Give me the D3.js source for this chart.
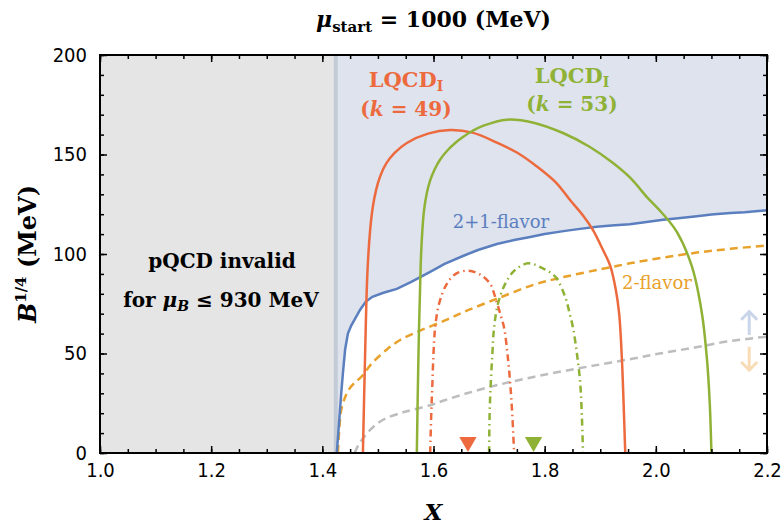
<!DOCTYPE html>
<html>
<head>
<meta charset="utf-8">
<script src="https://cdn.jsdelivr.net/npm/d3@7.9.0/dist/d3.min.js"></script>
<style>
  html, body { margin: 0; padding: 0; background: #fff; }
  svg { display: block; }
  .serif { font-family: "DejaVu Serif", serif; }
  .tick text { font-family: "DejaVu Sans Condensed", "DejaVu Sans", sans-serif; font-stretch: condensed; font-size: 20px; fill: #000; }
</style>
</head>
<body>
<svg id="chart" width="784" height="527"></svg>
<script>
// tick values
const xMajor = [1.0, 1.2, 1.4, 1.6, 1.8, 2.0, 2.2];
const yMajor = [0, 50, 100, 150, 200];

// pQCD invalid below this X
const invalidLimit = 1.426;

// 2+1-flavor boundary (B^1/4 vs X)
const flavor21 = [[1.426,0],[1.430,15],[1.434,30],[1.437,40],[1.441,52],[1.446,60],[1.452,64],[1.460,68],[1.468,72],[1.478,76],[1.49,78.5],[1.51,80.5],[1.534,82.5],[1.56,86],[1.594,91],[1.62,95],[1.653,99],[1.68,102],[1.714,105],[1.745,107],[1.774,108.5],[1.80,110],[1.834,111.5],[1.86,112.5],[1.894,113.7],[1.92,114.3],[1.953,115],[1.98,116],[2.013,117.2],[2.04,118],[2.074,119],[2.10,119.8],[2.134,120.6],[2.16,121],[2.2,122]];

// 2-flavor boundary
const flavor2 = [[1.428,0],[1.430,10],[1.433,20],[1.437,25],[1.441,28],[1.448,32],[1.457,35],[1.471,38.5],[1.489,45],[1.516,52],[1.54,56.8],[1.576,61.5],[1.624,67],[1.66,71.5],[1.714,77.5],[1.78,84.5],[1.834,88.4],[1.90,92.3],[1.953,95.3],[2.013,98.2],[2.074,100.7],[2.134,102.6],[2.2,104.3]];

// grey dashed lower curve
const lowerCurve = [[1.458,0],[1.465,4],[1.475,8],[1.486,11.6],[1.50,15],[1.516,17.6],[1.54,20],[1.552,21],[1.594,24],[1.62,26.5],[1.66,30],[1.72,34.5],[1.78,38.2],[1.84,41.5],[1.9,44.5],[1.96,47.5],[2.007,50],[2.07,53],[2.128,56],[2.2,58.5]];

// LQCD_I contours
const lqcd49 = [[1.473,0],[1.477,50],[1.481,90],[1.486,112],[1.491,124],[1.497,132.5],[1.504,139],[1.515,145.5],[1.53,150.8],[1.552,155.8],[1.59,160.5],[1.63,162.3],[1.67,161],[1.714,156],[1.75,151],[1.786,144],[1.82,136],[1.846,127],[1.87,119],[1.887,112],[1.905,102],[1.918,94],[1.928,82],[1.934,70],[1.939,47],[1.942,25],[1.945,0]];
const lqcd53 = [[1.570,0],[1.573,50],[1.577,95],[1.580,112],[1.583,122],[1.588,130.6],[1.594,137],[1.602,142.5],[1.612,147.5],[1.625,152],[1.64,156],[1.653,158.8],[1.67,161.8],[1.69,164.5],[1.732,167.5],[1.78,166],[1.833,160.8],[1.88,154],[1.923,145.7],[1.955,138],[1.984,128.6],[2.01,121],[2.038,111],[2.065,93.6],[2.083,70],[2.092,47],[2.097,25],[2.100,0]];
const lqcd49Inner = [[1.594,0],[1.596,20],[1.598,35],[1.600,50],[1.603,63],[1.61,75],[1.624,85],[1.64,90],[1.662,91.6],[1.685,89.5],[1.702,85],[1.711,78.4],[1.72,70],[1.727,63],[1.733,50],[1.738,35],[1.742,18],[1.745,0]];
const lqcd53Inner = [[1.700,0],[1.701,20],[1.703,35],[1.706,50],[1.709,63],[1.716,75],[1.729,85],[1.745,91.5],[1.770,95.3],[1.795,93],[1.819,88.6],[1.837,78.4],[1.845,70],[1.851,63],[1.858,50],[1.864,35],[1.867,18],[1.869,0]];

// marker positions (X) for k=49 and k=53
const markerX = [1.662, 1.780];
const markerB = 5.5;

// arrows at X = 2.168: [from, to]
const arrowX = 2.168;
const arrowUp = [59.3, 71];
const arrowDown = [53.4, 41.7];

const colors = {
  red: '#ec6a3e',
  green: '#8fb236',
  blue: '#5b7fbe',
  orange: '#e8a22c',
  gray: '#bdbdbd'
};

const svg = d3.select('#chart');
const mLeft = 100, mRight = 767, mTop = 55, mBottom = 453;

const x = d3.scaleLinear().domain([1.0, 2.2]).range([mLeft, mRight]);
const y = d3.scaleLinear().domain([0, 200]).range([mBottom, mTop]);

svg.append('defs').append('clipPath').attr('id', 'plot-clip')
  .append('rect').attr('x', mLeft).attr('y', mTop).attr('width', mRight - mLeft).attr('height', mBottom - mTop);

const plot = svg.append('g').attr('clip-path', 'url(#plot-clip)');

// shaded regions
plot.append('rect')
  .attr('x', x(1.0)).attr('y', y(200))
  .attr('width', x(invalidLimit) - x(1.0)).attr('height', y(0) - y(200))
  .attr('fill', '#e5e5e5');

const area = d3.area().x((d) => x(d[0])).y0(y(200)).y1((d) => y(d[1]));
plot.append('path').datum(flavor21).attr('d', area).attr('fill', '#dee3ee');

plot.append('rect')
  .attr('x', x(invalidLimit) - 3).attr('y', y(200))
  .attr('width', 4).attr('height', y(0) - y(200))
  .attr('fill', '#c3cbd7');

const smooth = d3.line().x((d) => x(d[0])).y((d) => y(d[1])).curve(d3.curveCatmullRom.alpha(0.5));
const straight = d3.line().x((d) => x(d[0])).y((d) => y(d[1]));

plot.append('path').datum(lowerCurve).attr('d', smooth)
  .attr('fill', 'none').attr('stroke', colors.gray).attr('stroke-width', 2.5).attr('stroke-dasharray', '8,5');
plot.append('path').datum(flavor2).attr('d', smooth)
  .attr('fill', 'none').attr('stroke', colors.orange).attr('stroke-width', 2.5).attr('stroke-dasharray', '8,5');
plot.append('path').datum(flavor21).attr('d', straight)
  .attr('fill', 'none').attr('stroke', colors.blue).attr('stroke-width', 2.5);

plot.append('path').datum(lqcd49Inner).attr('d', smooth)
  .attr('fill', 'none').attr('stroke', colors.red).attr('stroke-width', 2.5).attr('stroke-dasharray', '7,4,1.5,4');
plot.append('path').datum(lqcd53Inner).attr('d', smooth)
  .attr('fill', 'none').attr('stroke', colors.green).attr('stroke-width', 2.5).attr('stroke-dasharray', '7,4,1.5,4');
plot.append('path').datum(lqcd49).attr('d', smooth)
  .attr('fill', 'none').attr('stroke', colors.red).attr('stroke-width', 2.5);
plot.append('path').datum(lqcd53).attr('d', smooth)
  .attr('fill', 'none').attr('stroke', colors.green).attr('stroke-width', 2.5);

// triangle markers
const tri = d3.symbol().type(d3.symbolTriangle).size(130);
markerX.forEach((mx, i) => {
  plot.append('path')
    .attr('d', tri)
    .attr('transform', `translate(${x(mx)},${y(markerB)}) rotate(180)`)
    .attr('fill', i === 0 ? colors.red : colors.green);
});

// arrows
function drawArrow(from, to, color) {
  const ax = x(arrowX);
  const dir = to > from ? 1 : -1;
  plot.append('line')
    .attr('x1', ax).attr('x2', ax).attr('y1', y(from)).attr('y2', y(to))
    .attr('stroke', color).attr('stroke-width', 3);
  plot.append('polyline')
    .attr('points', `${ax - 8},${y(to) + dir * 8} ${ax},${y(to)} ${ax + 8},${y(to) + dir * 8}`)
    .attr('fill', 'none').attr('stroke', color).attr('stroke-width', 3);
}
drawArrow(arrowUp[0], arrowUp[1], '#c9d5e9');
drawArrow(arrowDown[0], arrowDown[1], '#f8dcb7');

// axes / ticks on all sides
function ticks(axisGen, tr, vals, size, labels) {
  const g = svg.append('g').attr('transform', tr)
    .call(axisGen.tickValues(vals).tickSize(size).tickSizeOuter(0)
      .tickFormat(labels ? d3.format(labels) : ''));
  g.select('.domain').remove();
  g.selectAll('.tick line').attr('stroke', '#000').attr('stroke-width', 1.5);
  return g;
}
const xMinor = d3.range(1.0, 2.2001, 0.05);
const yMinor = d3.range(0, 200.1, 10);
ticks(d3.axisBottom(x), `translate(0,${mBottom})`, xMinor, -4, null);
ticks(d3.axisTop(x), `translate(0,${mTop})`, xMinor, -4, null);
ticks(d3.axisLeft(y), `translate(${mLeft},0)`, yMinor, -4, null);
ticks(d3.axisRight(y), `translate(${mRight},0)`, yMinor, -4, null);
const xb = ticks(d3.axisBottom(x), `translate(0,${mBottom})`, xMajor, -7, '.1f');
xb.selectAll('.tick text').attr('y', 10).attr('dy', '0.71em');
ticks(d3.axisTop(x), `translate(0,${mTop})`, xMajor, -7, null);
const yl = ticks(d3.axisLeft(y), `translate(${mLeft},0)`, yMajor, -7, 'd');
yl.selectAll('.tick text').attr('x', -13);
ticks(d3.axisRight(y), `translate(${mRight},0)`, yMajor, -7, null);

svg.append('rect')
  .attr('x', mLeft).attr('y', mTop).attr('width', mRight - mLeft).attr('height', mBottom - mTop)
  .attr('fill', 'none').attr('stroke', '#000').attr('stroke-width', 2);

// text
const title = svg.append('text').attr('class', 'serif')
  .attr('x', (mLeft + mRight) / 2).attr('y', 27).attr('text-anchor', 'middle')
  .attr('font-size', 22).attr('font-weight', 'bold');
title.append('tspan').attr('font-style', 'italic').text('μ');
title.append('tspan').attr('font-size', 15).attr('dy', 5).text('start');
title.append('tspan').attr('dy', -5).text(' = 1000 (MeV)');

svg.append('text').attr('class', 'serif')
  .attr('x', (mLeft + mRight) / 2).attr('y', 520).attr('text-anchor', 'middle')
  .attr('font-size', 23).attr('font-weight', 'bold').attr('font-style', 'italic').text('X');

const yLabel = svg.append('text').attr('class', 'serif')
  .attr('transform', `translate(36,${(mTop + mBottom) / 2}) rotate(-90)`)
  .attr('text-anchor', 'middle').attr('font-size', 24).attr('font-weight', 'bold');
yLabel.append('tspan').attr('font-style', 'italic').text('B');
yLabel.append('tspan').attr('font-size', 15).attr('dy', -10).text('1/4');
yLabel.append('tspan').attr('dy', 10).text(' (MeV)');

function lqcdLabel(cx, y1, y2, k, color) {
  const t1 = svg.append('text').attr('class', 'serif')
    .attr('x', cx).attr('y', y1).attr('text-anchor', 'middle')
    .attr('font-size', 21).attr('font-weight', 'bold').attr('fill', color);
  t1.append('tspan').text('LQCD');
  t1.append('tspan').attr('font-size', 14).attr('dy', 4).text('I');
  const t2 = svg.append('text').attr('class', 'serif')
    .attr('x', cx).attr('y', y2).attr('text-anchor', 'middle')
    .attr('font-size', 20).attr('font-weight', 'bold').attr('fill', color);
  t2.append('tspan').text('(');
  t2.append('tspan').attr('font-style', 'italic').text('k');
  t2.append('tspan').text(` = ${k})`);
}
lqcdLabel(406, 87, 116, 49, colors.red);
lqcdLabel(572, 83, 111, 53, colors.green);

svg.append('text').attr('class', 'serif')
  .attr('x', 501).attr('y', 228).attr('text-anchor', 'middle')
  .attr('font-size', 18).attr('fill', colors.blue).text('2+1-flavor');
svg.append('text').attr('class', 'serif')
  .attr('x', 657).attr('y', 289).attr('text-anchor', 'middle')
  .attr('font-size', 18).attr('fill', colors.orange).text('2-flavor');

svg.append('text').attr('class', 'serif')
  .attr('x', 222).attr('y', 268).attr('text-anchor', 'middle')
  .attr('font-size', 20).attr('font-weight', 'bold').text('pQCD invalid');
const inv = svg.append('text').attr('class', 'serif')
  .attr('x', 221).attr('y', 307).attr('text-anchor', 'middle')
  .attr('font-size', 20).attr('font-weight', 'bold');
inv.append('tspan').text('for ');
inv.append('tspan').attr('font-style', 'italic').text('μ');
inv.append('tspan').attr('font-style', 'italic').attr('font-size', 14).attr('dy', 4).text('B');
inv.append('tspan').attr('dy', -4).text(' ≤ 930 MeV');
</script>
</body>
</html>
